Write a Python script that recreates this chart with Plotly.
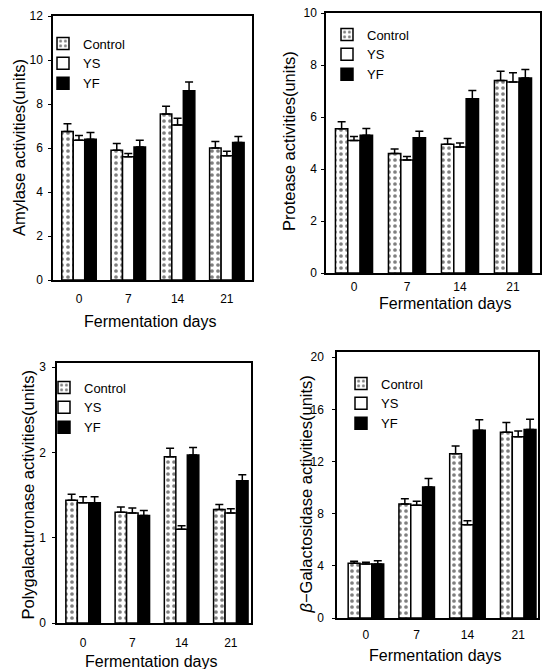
import plotly.graph_objects as go

days = ["0", "7", "14", "21"]
series_names = ["Control", "YS", "YF"]

amylase_control = [6.75, 5.9, 7.55, 6.0]
amylase_control_err = [0.35, 0.3, 0.35, 0.3]
amylase_ys = [6.35, 5.6, 7.05, 5.65]
amylase_ys_err = [0.22, 0.15, 0.3, 0.2]
amylase_yf = [6.4, 6.05, 8.6, 6.25]
amylase_yf_err = [0.3, 0.3, 0.4, 0.27]

protease_control = [5.55, 4.6, 4.95, 7.4]
protease_control_err = [0.27, 0.17, 0.22, 0.36]
protease_ys = [5.1, 4.35, 4.85, 7.35]
protease_ys_err = [0.15, 0.13, 0.15, 0.35]
protease_yf = [5.3, 5.2, 6.7, 7.5]
protease_yf_err = [0.26, 0.25, 0.32, 0.33]

pg_control = [1.44, 1.30, 1.95, 1.33]
pg_control_err = [0.07, 0.06, 0.1, 0.06]
pg_ys = [1.41, 1.29, 1.10, 1.29]
pg_ys_err = [0.07, 0.06, 0.04, 0.05]
pg_yf = [1.41, 1.26, 1.97, 1.67]
pg_yf_err = [0.07, 0.06, 0.09, 0.07]

gal_control = [4.2, 8.75, 12.6, 14.25]
gal_control_err = [0.15, 0.4, 0.6, 0.75]
gal_ys = [4.15, 8.65, 7.15, 13.9]
gal_ys_err = [0.12, 0.3, 0.3, 0.45]
gal_yf = [4.15, 10.05, 14.4, 14.45]
gal_yf_err = [0.25, 0.65, 0.8, 0.8]

y_titles = ["Amylase activities(units)", "Protease activities(units)",
            "Polygalacturonase activities(units)",
            "<i>β</i>−Galactosidase activities(units)"]
x_title = "Fermentation days"

W, H = 546, 669
FONT = "Liberation Sans, Arial, sans-serif"

panels = [
    dict(data=[(amylase_control, amylase_control_err), (amylase_ys, amylase_ys_err), (amylase_yf, amylase_yf_err)],
         xpx=(53, 252), ypx=(16, 280), yrange=[0, 12], dtick=2, xrange=[-0.527, 3.51],
         ytitle=(19, 148), xtitle=(150, 321), leg=(43, 28.5), xstand=7, ystand=3),
    dict(data=[(protease_control, protease_control_err), (protease_ys, protease_ys_err), (protease_yf, protease_yf_err)],
         xpx=(326, 540), ypx=(13, 273), yrange=[0, 10], dtick=2, xrange=[-0.528, 3.51],
         ytitle=(289, 141), xtitle=(445, 303), leg=(327, 19.5), xstand=2, ystand=2),
    dict(data=[(pg_control, pg_control_err), (pg_ys, pg_ys_err), (pg_yf, pg_yf_err)],
         xpx=(57, 251), ypx=(363, 623), yrange=[0, 3.05], dtick=1, xrange=[-0.53, 3.41],
         ytitle=(27.5, 495), xtitle=(151, 661), leg=(44, 372.5), xstand=8, ystand=4),
    dict(data=[(gal_control, gal_control_err), (gal_ys, gal_ys_err), (gal_yf, gal_yf_err)],
         xpx=(337, 538), ypx=(352, 618), yrange=[0, 20.4], dtick=4, xrange=[-0.57, 3.39],
         ytitle=(305.5, 495), xtitle=(435.5, 655), leg=(341, 368.5), xstand=5, ystand=6),
]

def marker_for(i):
    if i == 0:
        return dict(color="white", line=dict(color="black", width=1.5),
                    pattern=dict(shape=".", fgcolor="black", bgcolor="white", size=6, solidity=0.3))
    if i == 1:
        return dict(color="white", line=dict(color="black", width=1.5))
    return dict(color="black", line=dict(color="black", width=1.5))

fig = go.Figure()
layout = dict(width=W, height=H, margin=dict(l=0, r=0, t=0, b=0, pad=0, autoexpand=False),
              paper_bgcolor="white", plot_bgcolor="white",
              barmode="group", bargap=0.3, bargroupgap=0,
              font=dict(family=FONT, size=12, color="black"),
              annotations=[])

for k, p in enumerate(panels):
    sfx = "" if k == 0 else str(k + 1)
    legname = "legend" + sfx
    for i, (vals, errs) in enumerate(p["data"]):
        fig.add_trace(go.Bar(
            x=days, y=vals, name=series_names[i],
            marker=marker_for(i),
            error_y=dict(type="data", array=errs, arrayminus=[0] * len(errs), symmetric=False,
                         color="black", thickness=1.5, width=4),
            xaxis="x" + sfx, yaxis="y" + sfx, legend=legname, showlegend=True))
    x0, x1 = p["xpx"]
    y0, y1 = p["ypx"]
    layout["xaxis" + sfx] = dict(domain=[x0 / W, x1 / W], anchor="y" + sfx, range=p["xrange"],
                                 showline=True, mirror=True, linecolor="black", linewidth=1.5,
                                 ticks="", showgrid=False, zeroline=False, automargin=False,
                                 tickfont=dict(family=FONT, size=12, color="black"),
                                 ticklabelstandoff=p["xstand"])
    layout["yaxis" + sfx] = dict(domain=[1 - y1 / H, 1 - y0 / H], anchor="x" + sfx, range=p["yrange"],
                                 dtick=p["dtick"], tick0=0, automargin=False,
                                 showline=True, mirror=True, linecolor="black", linewidth=1.5,
                                 ticks="outside", ticklen=3, tickwidth=1, tickcolor="black",
                                 showgrid=False, zeroline=False,
                                 tickfont=dict(family=FONT, size=12, color="black"),
                                 ticklabelstandoff=p["ystand"])
    lx, ly = p["leg"]
    layout[legname] = dict(x=lx / W, y=1 - ly / H, xanchor="left", yanchor="top",
                           bgcolor="rgba(0,0,0,0)", font=dict(family=FONT, size=13, color="black"),
                           traceorder="normal", itemwidth=30)
    tx, ty = p["ytitle"]
    layout["annotations"].append(dict(text=y_titles[k], x=tx / W, y=1 - ty / H, xref="paper", yref="paper",
                                      xanchor="center", yanchor="middle", textangle=-90, showarrow=False,
                                      font=dict(family=FONT, size=16.5, color="black")))
    tx, ty = p["xtitle"]
    layout["annotations"].append(dict(text=x_title, x=tx / W, y=1 - ty / H, xref="paper", yref="paper",
                                      xanchor="center", yanchor="middle", showarrow=False,
                                      font=dict(family=FONT, size=16, color="black")))

fig.update_layout(**layout)
fig.write_html("out.html", config={"displayModeBar": False},
               post_script="document.body.style.margin='0';document.body.style.padding='0';")
